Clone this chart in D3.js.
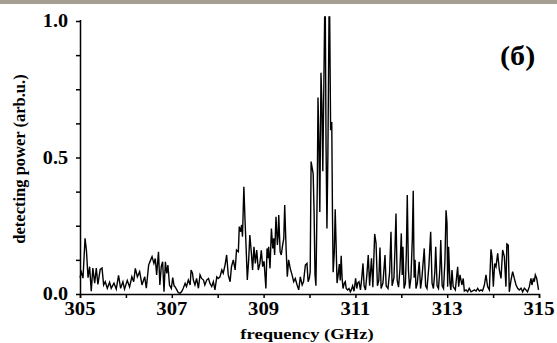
<!DOCTYPE html>
<html><head><meta charset="utf-8">
<script src="https://cdn.jsdelivr.net/npm/d3@7/dist/d3.min.js"></script>
<style>
html,body{margin:0;padding:0;background:#fff;}
svg{display:block;}
text{font-family:"Liberation Serif","Times New Roman",serif;font-weight:bold;fill:#000;}
</style></head>
<body>
<script>
// frequency (GHz) and detecting power (arb.u.)
const freq = [
305.00,305.03,305.065,305.11,305.14,305.175,305.21,305.245,305.28,305.32,305.355,305.39,305.44,305.48,305.515,305.55,305.595,305.645,305.68,305.74,305.79,305.84,305.885,305.935,305.97,306.03,306.08,306.13,306.17,306.205,306.25,306.30,306.35,306.41,306.445,306.495,306.54,306.57,306.61,306.64,306.67,306.71,306.74,306.77,306.80,306.83,306.86,306.89,306.915,306.95,306.99,307.02,
307.05,307.07,307.11,307.14,307.18,307.215,307.25,307.29,307.32,307.36,307.40,307.42,307.45,307.47,307.505,307.54,307.58,307.615,307.65,307.69,307.72,307.76,307.80,307.83,307.87,307.905,307.94,307.98,308.01,308.05,308.09,308.12,308.16,308.195,308.23,308.27,308.30,308.34,308.38,308.41,308.45,308.47,308.50,308.52,308.54,308.57,308.595,308.62,308.645,308.675,308.70,308.74,308.76,308.79,308.82,308.85,308.885,308.92,
308.95,308.98,309.01,309.05,309.075,309.095,309.11,309.14,309.17,309.20,309.22,309.24,309.27,309.30,309.315,309.33,309.36,309.385,309.415,309.44,309.46,309.49,309.517,309.545,309.58,309.62,309.655,309.69,309.73,309.765,309.80,309.84,309.87,309.91,309.945,309.97,309.995,310.015,
310.035,310.06,310.08,310.10,310.12,310.14,310.17,310.185,310.205,310.225,310.25,310.27,310.29,310.315,310.33,310.345,310.36,310.38,310.40,310.425,310.44,310.46,310.485,310.50,310.515,310.54,310.56,310.58,310.60,310.625,310.65,310.67,310.69,310.71,310.73,310.76,310.78,310.80,310.83,310.86,310.89,310.91,310.94,310.97,
311.005,311.03,311.05,311.078,311.11,311.14,311.165,311.19,311.22,311.25,311.28,311.31,311.35,311.38,311.42,311.45,311.48,311.51,311.535,311.56,311.60,311.645,311.67,311.71,311.745,311.775,311.80,311.84,311.865,311.884,311.91,311.94,311.97,312.00,312.02,312.036,312.06,312.09,312.11,312.13,312.155,312.18,312.21,312.24,312.26,312.28,312.30,312.32,312.35,312.39,312.42,312.45,312.50,312.53,312.56,312.60,312.64,312.67,312.70,312.73,312.75,312.78,312.81,312.84,312.86,312.89,312.92,312.95,312.975,
312.996,313.01,313.03,313.06,313.08,313.105,313.13,313.177,313.228,313.25,313.279,313.32,313.35,313.373,313.41,313.446,313.48,313.52,313.555,313.59,313.63,313.664,313.70,313.736,313.77,313.81,313.845,313.88,313.918,313.954,313.976,314.005,314.034,314.063,314.10,314.136,314.172,314.208,314.245,314.28,314.30,314.33,314.353,314.39,314.426,314.462,314.50,314.535,314.57,314.608,314.644,314.68,314.717,314.75,314.79,314.825,314.847,314.876,314.898,314.92,314.95,314.99
];
const power = [
0.06,0.08,0.058,0.204,0.16,0.06,0.10,0.01,0.095,0.04,0.095,0.035,0.09,0.095,0.033,0.045,0.021,0.043,0.021,0.04,0.018,0.068,0.021,0.045,0.018,0.05,0.026,0.063,0.045,0.094,0.063,0.082,0.033,0.063,0.021,0.106,0.125,0.137,0.112,0.13,0.07,0.155,0.033,0.10,0.118,0.008,0.118,0.075,0.106,0.033,0.02,0.06,
0.03,0.027,0.015,0.005,0.003,0.009,0.021,0.039,0.027,0.051,0.033,0.088,0.076,0.051,0.033,0.057,0.021,0.07,0.057,0.051,0.033,0.051,0.057,0.039,0.027,0.045,0.015,0.063,0.057,0.063,0.088,0.076,0.106,0.143,0.07,0.045,0.10,0.125,0.088,0.161,0.155,0.247,0.228,0.253,0.21,0.393,0.271,0.167,0.051,0.125,0.216,0.137,0.088,0.173,0.112,0.161,0.088,0.112,
0.16,0.10,0.12,0.02,0.167,0.131,0.173,0.094,0.24,0.167,0.204,0.143,0.283,0.18,0.21,0.289,0.155,0.143,0.18,0.204,0.326,0.167,0.063,0.125,0.094,0.07,0.045,0.057,0.033,0.015,0.063,0.033,0.045,0.106,0.112,0.045,0.057,0.08,
0.485,0.46,0.44,0.30,0.07,0.03,0.40,0.72,0.56,0.30,0.81,0.70,0.45,0.80,1.015,1.015,0.55,0.24,0.50,1.015,1.015,0.60,0.63,0.30,0.08,0.15,0.31,0.18,0.04,0.07,0.11,0.05,0.14,0.06,0.02,0.04,0.045,0.02,0.015,0.02,0.008,0.015,0.03,0.01,
0.057,0.02,0.04,0.045,0.015,0.06,0.112,0.03,0.015,0.07,0.143,0.03,0.131,0.025,0.22,0.186,0.03,0.05,0.17,0.02,0.04,0.143,0.03,0.02,0.08,0.228,0.03,0.06,0.18,0.295,0.05,0.025,0.09,0.222,0.07,0.173,0.02,0.04,0.15,0.363,0.09,0.02,0.06,0.20,0.378,0.06,0.125,0.02,0.04,0.118,0.02,0.06,0.167,0.03,0.02,0.10,0.228,0.04,0.02,0.08,0.173,0.03,0.02,0.09,0.198,0.03,0.02,0.12,0.307,
0.259,0.027,0.173,0.039,0.015,0.088,0.027,0.015,0.10,0.027,0.07,0.033,0.057,0.011,0.015,0.008,0.021,0.008,0.011,0.015,0.011,0.021,0.011,0.015,0.011,0.033,0.07,0.027,0.015,0.164,0.137,0.027,0.112,0.10,0.149,0.088,0.057,0.161,0.137,0.027,0.183,0.179,0.008,0.051,0.082,0.057,0.033,0.021,0.015,0.021,0.008,0.021,0.015,0.008,0.027,0.057,0.033,0.057,0.045,0.07,0.057,0.015
];
const xTicks = [305,306,307,308,309,310,311,312,313,314,315];
const xLabels = [305,307,309,311,313,315];
const yTicks = [0,0.125,0.25,0.375,0.5,0.625,0.75,0.875,1.0];
const yLabels = [0,0.5,1.0];
const xTitle = "frequency (GHz)";
const yTitle = "detecting power (arb.u.)";
const panelLabel = "(б)";

const W = 557, H = 343;
const svg = d3.select("body").append("svg").attr("width", W).attr("height", H);
svg.append("rect").attr("x",0).attr("y",0).attr("width",W).attr("height",4).attr("fill","#a49f92");

const x = d3.scaleLinear().domain([305,315]).range([80,539]);
const y = d3.scaleLinear().domain([0,1]).range([294,21]);

const data = freq.map((f,i)=>({f, p: power[i]}));
svg.append("path").datum(data)
  .attr("fill","none").attr("stroke","#000").attr("stroke-width",1.4).attr("stroke-linejoin","miter")
  .attr("d", d3.line().x(d=>x(d.f)).y(d=>y(d.p)));

const xa = svg.append("g").attr("transform","translate(0,294)")
  .call(d3.axisBottom(x).tickValues(xTicks).tickSize(4).tickFormat(""));
const ya = svg.append("g").attr("transform","translate(80,0)")
  .call(d3.axisLeft(y).tickValues(yTicks).tickSize(4).tickFormat(""));
[xa,ya].forEach(a=>{
  a.select(".domain").attr("stroke","#000").attr("stroke-width",1.5);
  a.selectAll(".tick line").attr("stroke","#000").attr("stroke-width",1.5);
});
ya.select(".domain").attr("d","M0.5,20V294");

function stext(px, py, str, size, anchor, sx){
  const g = svg.append("g").attr("transform",`translate(${px},${py}) scale(${sx},1)`);
  g.append("text").attr("text-anchor",anchor).attr("font-size",size).text(str);
}
xLabels.forEach(v=> stext(x(v), 315, String(v), 18, "middle", 1.15));
yLabels.forEach(v=> stext(68, y(v)+6, d3.format(".1f")(v), 18, "end", 1.12));
stext(307, 339, xTitle, 15, "middle", 1.24);
svg.append("g").attr("transform",`translate(25,159) rotate(-90)`)
  .append("text").attr("text-anchor","middle").attr("font-size",16.5).text(yTitle);
stext(500, 65, panelLabel, 27, "start", 1.12);
</script>
</body></html>
